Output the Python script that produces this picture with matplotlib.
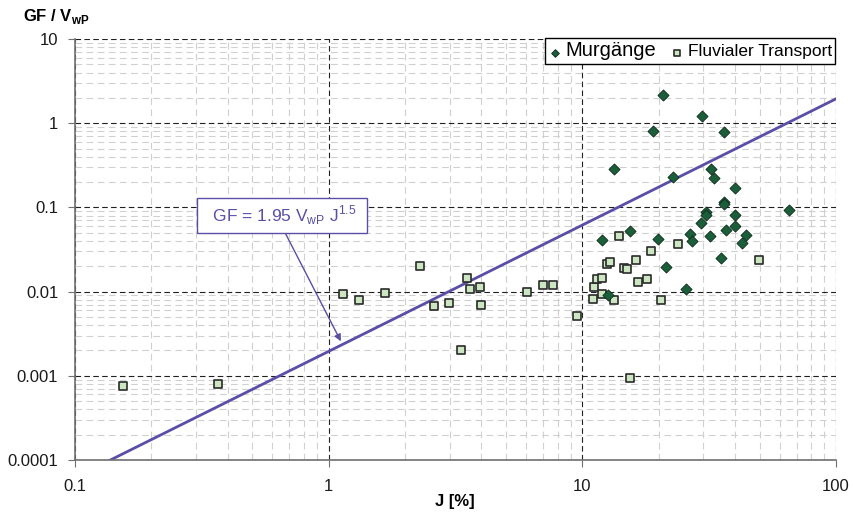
import matplotlib.pyplot as plt
from matplotlib.ticker import LogLocator, FixedLocator, FixedFormatter, NullFormatter

plt.rcParams['font.family'] = ['Liberation Sans', 'DejaVu Sans']

# Murgänge (debris flows): J [%], GF / VwP
mur_j = [20.7, 29.7, 19.0, 36.1, 13.3, 22.8, 32.0, 33.0, 40.1, 36.1, 36.3, 65.2,
         30.6, 30.8, 39.8, 29.4, 39.8, 36.7, 15.4, 26.5, 31.8, 44.3, 11.9, 19.9,
         27.1, 42.4, 35.1, 21.3, 25.7, 12.6]
mur_gf = [2.19, 1.23, 0.81, 0.79, 0.286, 0.228, 0.289, 0.226, 0.170, 0.115, 0.109, 0.094,
          0.089, 0.081, 0.081, 0.066, 0.060, 0.0545, 0.053, 0.048, 0.046, 0.0475, 0.0406, 0.0426,
          0.0403, 0.0378, 0.0248, 0.0194, 0.0106, 0.0092]

# Fluvialer Transport (bedload)
flu_j = [0.155, 0.365, 1.14, 1.32, 1.67, 2.30, 2.59, 2.99, 3.32, 3.52, 3.59, 3.95, 4.00,
         6.03, 7.02, 7.66, 9.52, 11.05, 11.95, 11.1, 11.4, 11.95, 12.5, 12.9, 13.3, 13.9,
         14.6, 15.0, 16.3, 16.6, 18.0, 18.6, 20.4, 23.8, 49.5, 15.4]
flu_gf = [0.00076, 0.00079, 0.0094, 0.0079, 0.0096, 0.020, 0.0067, 0.0074, 0.0020, 0.0146,
          0.0107, 0.0112, 0.00686, 0.0098, 0.0121, 0.0121, 0.0052, 0.0082, 0.0093, 0.0113,
          0.0140, 0.0146, 0.0212, 0.0222, 0.0079, 0.0457, 0.0192, 0.0187, 0.0237, 0.0130,
          0.0140, 0.0303, 0.0079, 0.0367, 0.0237, 0.00093]

# GF = 1.95 VwP J^1.5 (J as fraction), end points
line_j = [0.1, 100]
line_gf = [6.17e-5, 1.95]

x_ticks = [0.1, 1, 10, 100]
x_labels = ['0.1', '1', '10', '100']
y_ticks = [0.0001, 0.001, 0.01, 0.1, 1, 10]
y_labels = ['0.0001', '0.001', '0.01', '0.1', '1', '10']

purple = '#5a4fa6'

fig = plt.figure(figsize=(8.54, 5.12), dpi=100)
ax = fig.add_axes([0.0878, 0.1016, 0.979 - 0.0878, 0.9238 - 0.1016])
ax.set_xscale('log')
ax.set_yscale('log')
ax.set_xlim(0.1, 100)
ax.set_ylim(0.0001, 10)

ax.xaxis.set_major_locator(FixedLocator(x_ticks))
ax.xaxis.set_major_formatter(FixedFormatter(x_labels))
ax.yaxis.set_major_locator(FixedLocator(y_ticks))
ax.yaxis.set_major_formatter(FixedFormatter(y_labels))
ax.xaxis.set_minor_locator(LogLocator(base=10, subs=range(2, 10)))
ax.yaxis.set_minor_locator(LogLocator(base=10, subs=range(2, 10)))
ax.xaxis.set_minor_formatter(NullFormatter())
ax.yaxis.set_minor_formatter(NullFormatter())

ax.grid(which='minor', color='#d0d0d0', linestyle=(0, (6, 4)), linewidth=0.8)
ax.grid(which='major', color='#202020', linestyle=(0, (5, 3)), linewidth=0.8)
ax.set_axisbelow(True)

for s in ['top', 'right']:
    ax.spines[s].set_visible(False)
for s in ['left', 'bottom']:
    ax.spines[s].set_color('#707070')
    ax.spines[s].set_linewidth(1.2)
ax.tick_params(which='major', length=5, color='#707070', labelsize=12, labelcolor='#1a1a1a')
ax.tick_params(axis='y', pad=7)
ax.tick_params(axis='x', pad=9)
ax.tick_params(which='minor', length=0)

ax.plot(line_j, line_gf, color=purple, linewidth=2, zorder=2)

ax.scatter(flu_j, flu_gf, marker='s', s=40, facecolor='#cde6c2', edgecolor='#2a2a2a',
           linewidth=1.2, zorder=3, label='Fluvialer Transport')
ax.scatter(mur_j, mur_gf, marker='D', s=32, facecolor='#1b5e3a', edgecolor='#0d2a1a',
           linewidth=0.6, zorder=4, label='Murgänge')

ax.annotate('  GF = 1.95 V$_{\\mathregular{wP}}$ J$^{\\mathregular{1.5}}$  ',
            xy=(1.13, 0.0024), xytext=(0.656, 0.0805),
            fontsize=12.5, color=purple, ha='center', va='center',
            bbox=dict(boxstyle='square,pad=0.32', facecolor='white', edgecolor=purple, linewidth=1),
            arrowprops=dict(arrowstyle='-|>', color=purple, linewidth=1, mutation_scale=10,
                            shrinkA=0, relpos=(0.5, 0)), zorder=5)

handles, labels = ax.get_legend_handles_labels()
leg = ax.legend(handles[::-1], labels[::-1], loc='upper right', ncol=2, frameon=True,
                fancybox=False, edgecolor='black', framealpha=1, handletextpad=0.35,
                columnspacing=1.0, borderpad=0.25, handlelength=0.9, markerscale=0.7,
                borderaxespad=0, bbox_to_anchor=(0.999, 1.003))
leg.get_frame().set_linewidth(1)
leg.get_texts()[0].set_fontsize(14.5)
leg.get_texts()[1].set_fontsize(12.5)

fig.text(0.027, 0.967, 'GF / V$_{\\mathregular{wP}}$', fontsize=12, fontweight='bold', va='center')
fig.text(0.533, 0.021, 'J [%]', fontsize=12, fontweight='bold', ha='center', va='center')

fig.savefig('out.png', dpi=100)
